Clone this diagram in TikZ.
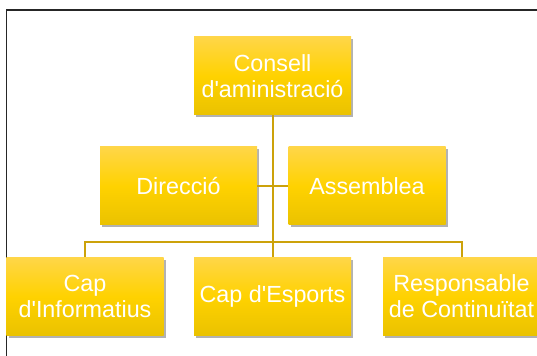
\documentclass[tikz,border=0pt]{standalone}
\usepackage{fontspec}
\setmainfont{Liberation Sans}
\usetikzlibrary{shadows}
\definecolor{grocclar}{RGB}{255,214,72}
\definecolor{groc}{RGB}{255,210,0}
\definecolor{grocfosc}{RGB}{234,194,0}
\definecolor{linia}{RGB}{204,162,10}

\begin{document}
\begin{tikzpicture}
\useasboundingbox (0pt,0pt) rectangle (402.75pt,267pt);
\tikzset{Carrec/.style={rectangle,minimum width=117.75pt,minimum height=58.5pt,
  inner sep=2pt,align=center,text=white,font=\fontsize{17.5}{19.3}\selectfont,
  top color=grocclar,bottom color=grocfosc,middle color=groc,
  drop shadow={shadow xshift=1.5pt,shadow yshift=-1.8pt,fill=black,opacity=0.3}}}
\tikzset{Linia/.style={draw=linia,line width=1.5pt}}

\draw[line width=1pt,black!85] (4.9pt,-5pt) -- (4.9pt,259.5pt) -- (410pt,259.5pt);

\node[Carrec] (consell) at (204.375pt,210pt) {Consell\\d\textquotesingle aministració};
\node[Carrec] (direccio) at (133.875pt,127.5pt) {Direcció};
\node[Carrec] (assemblea) at (275.25pt,127.5pt) {Assemblea};
\node[Carrec] (informatius) at (63.75pt,44.625pt) {Cap\\d\textquotesingle Informatius};
\node[Carrec] (esports) at (204.375pt,44.625pt) {Cap d\textquotesingle Esports};
\node[Carrec] (responsable) at (346.125pt,44.625pt) {Responsable\\de Continuïtat};
\coordinate (bus) at (204.375pt,85.5pt);

\draw[Linia] (consell.south) -- (esports.north);
\draw[Linia] (direccio.east) -- (assemblea.west);
\draw[Linia] (informatius.north) |- (bus) -| (responsable.north);
\end{tikzpicture}
\end{document}
